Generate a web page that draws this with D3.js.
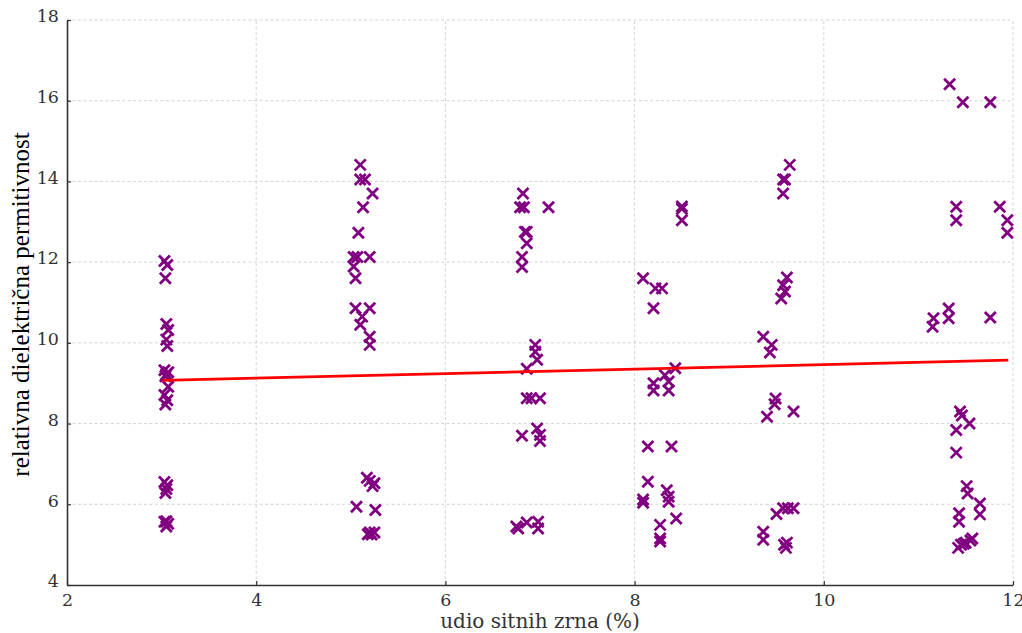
<!DOCTYPE html>
<html>
<head>
<meta charset="utf-8">
<script src="https://cdn.jsdelivr.net/npm/d3@7"></script>
<style>
  body { margin: 0; background: #fff; }
  svg { display: block; }
</style>
</head>
<body>
<svg id="chart" width="1022" height="633"></svg>
<script>
// ---- data ----
const xTicks = [2, 4, 6, 8, 10, 12];
const yTicks = [4, 6, 8, 10, 12, 14, 16, 18];
const xLabel = "udio sitnih zrna (%)";
const yLabel = "relativna dielektrična permitivnost";

const fineX = [
  // ~3 %
  3.03, 3.06, 3.04, 3.05, 3.07, 3.05, 3.06, 3.03, 3.07, 3.05, 3.04, 3.07, 3.03, 3.06, 3.04, 3.03, 3.06, 3.05, 3.04, 3.05, 3.07, 3.05, 3.03,
  // ~5 %
  5.10, 5.10, 5.15, 5.23, 5.13, 5.08, 5.03, 5.07, 5.20, 5.03, 5.05, 5.05, 5.20, 5.12, 5.10, 5.20, 5.20,
  5.17, 5.20, 5.25, 5.23, 5.06, 5.26, 5.20, 5.22, 5.25, 5.18,
  // ~7 %
  6.82, 6.79, 6.83, 7.09, 6.84, 6.86, 6.86, 6.81, 6.81, 6.95, 6.95, 6.97, 6.86, 6.86, 6.91, 7.00, 6.81, 6.97, 7.00, 7.00,
  6.75, 6.77, 6.86, 6.98, 6.98,
  // ~8.3 %
  8.50, 8.50, 8.50, 8.09, 8.22, 8.29, 8.20, 8.43, 8.32, 8.20, 8.36, 8.20, 8.36, 8.14, 8.39, 8.14, 8.34,
  8.09, 8.09, 8.36, 8.36, 8.44, 8.27, 8.27, 8.27,
  // ~9.5 %
  9.64, 9.57, 9.59, 9.57, 9.61, 9.57, 9.59, 9.55, 9.36, 9.45, 9.43, 9.49, 9.48, 9.40, 9.68,
  9.50, 9.57, 9.62, 9.68, 9.36, 9.36, 9.61, 9.60, 9.58,
  // ~11.5 %
  11.33, 11.47, 11.76, 11.40, 11.40, 11.86, 11.94, 11.94, 11.16, 11.15, 11.32, 11.32, 11.76,
  11.44, 11.46, 11.40, 11.54, 11.40, 11.51, 11.52, 11.65, 11.65, 11.43, 11.43,
  11.42, 11.45, 11.50, 11.55, 11.57, 11.48
];
const permY = [
  // ~3 %
  12.03, 11.93, 11.60, 10.47, 10.32, 10.08, 9.92, 9.32, 9.27, 9.22, 9.17, 8.91, 8.71, 8.58, 8.47, 6.55, 6.47, 6.38, 6.28, 5.58, 5.52, 5.45, 5.57,
  // ~5 %
  14.41, 14.05, 14.05, 13.70, 13.36, 12.73, 12.13, 12.13, 12.13, 11.89, 11.60, 10.86, 10.86, 10.65, 10.45, 10.15, 9.95,
  6.66, 6.58, 6.52, 6.45, 5.94, 5.86, 5.30, 5.25, 5.30, 5.26,
  // ~7 %
  13.70, 13.36, 13.36, 13.36, 12.75, 12.75, 12.47, 12.13, 11.88, 9.95, 9.78, 9.58, 9.36, 8.63, 8.63, 8.63, 7.70, 7.88, 7.72, 7.57,
  5.45, 5.40, 5.55, 5.57, 5.40,
  // ~8.3 %
  13.38, 13.32, 13.04, 11.60, 11.35, 11.35, 10.86, 9.37, 9.20, 9.00, 9.04, 8.82, 8.82, 7.43, 7.43, 6.56, 6.35,
  6.12, 6.04, 6.19, 6.06, 5.65, 5.49, 5.15, 5.08,
  // ~9.5 %
  14.41, 14.05, 14.05, 13.70, 11.62, 11.43, 11.27, 11.10, 10.15, 9.95, 9.76, 8.62, 8.48, 8.17, 8.30,
  5.76, 5.90, 5.90, 5.90, 5.32, 5.12, 5.05, 4.92, 5.00,
  // ~11.5 %
  16.41, 15.96, 15.96, 13.37, 13.04, 13.37, 13.04, 12.73, 10.61, 10.40, 10.85, 10.61, 10.63,
  8.30, 8.20, 7.84, 8.00, 7.28, 6.45, 6.27, 6.02, 5.75, 5.78, 5.57,
  4.92, 5.00, 5.05, 5.10, 5.15, 5.02
];
// fitted trend line end points
const fitX = [3.01, 11.95];
const fitY = [9.07, 9.57];

// ---- chart ----
const margin = {left: 67, right: 9, top: 20, bottom: 48};
const W = 1022, H = 633;
const svg = d3.select("#chart");
const x = d3.scaleLinear().domain([2, 12]).range([margin.left, W - margin.right]);
const y = d3.scaleLinear().domain([4, 18]).range([H - margin.bottom, margin.top]);

// grid
const grid = svg.append("g").attr("stroke", "#c8c8c8").attr("stroke-width", 0.8)
  .attr("stroke-dasharray", "3,2.5");
grid.selectAll(".gx").data(xTicks.slice(1)).enter().append("line")
  .attr("x1", d => x(d)).attr("x2", d => x(d))
  .attr("y1", y(4)).attr("y2", y(18));
grid.selectAll(".gy").data(yTicks.slice(1)).enter().append("line")
  .attr("x1", x(2)).attr("x2", x(12))
  .attr("y1", d => y(d)).attr("y2", d => y(d));

// axes
const xAxis = d3.axisBottom(x).tickValues(xTicks).tickFormat(d3.format("d"))
  .tickSizeInner(-4).tickSizeOuter(0).tickPadding(8);
const yAxis = d3.axisLeft(y).tickValues(yTicks).tickFormat(d3.format("d"))
  .tickSizeInner(-4).tickSizeOuter(0).tickPadding(8);

const gx = svg.append("g").attr("transform", `translate(0,${y(4)})`).call(xAxis);
const gy = svg.append("g").attr("transform", `translate(${x(2)},0)`).call(yAxis);
[gx, gy].forEach(g => {
  g.select(".domain").attr("stroke", "#333").attr("stroke-width", 1.6);
  g.selectAll(".tick line").attr("stroke", "#333").attr("stroke-width", 1.2);
  g.selectAll(".tick text").attr("fill", "#333")
    .style("font-family", "'DejaVu Serif', serif").style("font-size", "17.5px");
});
gy.selectAll(".tick text").attr("dy", "0.1em");
gx.selectAll(".tick text").attr("dy", "0.72em");

// points (x markers)
const s = 5.5;
const pts = svg.append("g").attr("stroke", "#800080").attr("stroke-width", 2.8)
  .attr("stroke-linecap", "butt");
pts.selectAll("path").data(fineX.map((d, i) => [d, permY[i]])).enter().append("path")
  .attr("d", d => {
    const cx = x(d[0]), cy = y(d[1]);
    return `M${cx - s},${cy - s}L${cx + s},${cy + s}M${cx - s},${cy + s}L${cx + s},${cy - s}`;
  });

// trend line
svg.append("path")
  .datum(fitX.map((d, i) => [d, fitY[i]]))
  .attr("fill", "none").attr("stroke", "#ff0000").attr("stroke-width", 2.8)
  .attr("d", d3.line().x(d => x(d[0])).y(d => y(d[1])));

// labels
svg.append("text").attr("x", 540).attr("y", 628)
  .attr("text-anchor", "middle").attr("fill", "#333")
  .style("font-family", "'DejaVu Serif', serif").style("font-size", "20px")
  .text(xLabel);
svg.append("text")
  .attr("transform", `translate(29,${(y(4) + y(18)) / 2 + 2}) rotate(-90)`)
  .attr("text-anchor", "middle").attr("fill", "#000")
  .style("font-family", "'Liberation Serif', 'Times New Roman', serif").style("font-size", "25px")
  .text(yLabel);
</script>
</body>
</html>
